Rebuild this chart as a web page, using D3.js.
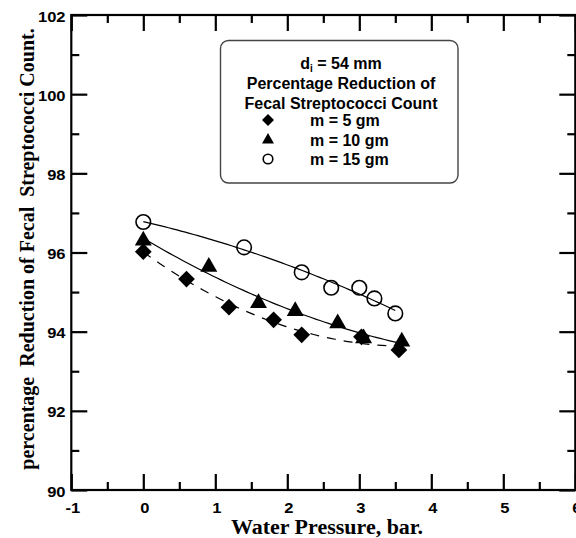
<!DOCTYPE html>
<html>
<head>
<meta charset="utf-8">
<script src="https://cdn.jsdelivr.net/npm/d3@7"></script>
<style>
  html, body { margin: 0; padding: 0; background: #fff; }
  svg { display: block; }
  .num { font-family: "Liberation Sans", Arial, sans-serif; font-weight: bold; font-size: 15px; fill: #000; }
  .ttl { font-family: "Liberation Serif", "Times New Roman", serif; font-weight: bold; font-size: 20px; fill: #000; white-space: pre; }
  .leg { font-family: "Liberation Sans", Arial, sans-serif; font-weight: bold; font-size: 16px; fill: #000; }
</style>
</head>
<body>
<svg id="chart" width="576" height="538"></svg>
<script>
// Water pressure (bar) and percentage reduction for each sand mass
const pressure5  = [0, 0.60, 1.19, 1.81, 2.20, 3.03, 3.55];
const reduction5 = [96.02, 95.33, 94.62, 94.30, 93.92, 93.87, 93.54];

const pressure10  = [0, 0.91, 1.60, 2.11, 2.70, 3.06, 3.59];
const reduction10 = [96.30, 95.64, 94.72, 94.52, 94.21, 93.83, 93.75];

const pressure15  = [0, 1.40, 2.20, 2.61, 3.00, 3.21, 3.50];
const reduction15 = [96.77, 96.13, 95.50, 95.11, 95.11, 94.84, 94.46];

const xTicks = [-1, 0, 1, 2, 3, 4, 5, 6];
const yTicks = [90, 92, 94, 96, 98, 100, 102];

const legendTitle = ["Percentage Reduction of", "Fecal Streptococci Count"];
const legendLabels = ["m = 5 gm", "m = 10 gm", "m = 15 gm"];

const svg = d3.select("#chart");
const plotLeft = 71.3, plotRight = 575.3, plotTop = 15, plotBottom = 490;

const x = d3.scaleLinear().domain([-1, 6]).range([plotLeft, plotRight]);
const y = d3.scaleLinear().domain([90, 102]).range([plotBottom, plotTop]);

// Minor/major ticks on all four sides, pointing into the plot
const majorLen = 16, minorLen = 8;
const xMinor = d3.range(-0.5, 6, 1);
const yMinor = d3.range(91, 102, 2);

function tickAxis(axisFn, scale, values, len) {
  return axisFn(scale).tickValues(values).tickSize(-len).tickFormat("");
}

const axes = svg.append("g").attr("class", "axes");
[[d3.axisBottom, plotBottom], [d3.axisTop, plotTop]].forEach(([fn, pos]) => {
  axes.append("g").attr("transform", `translate(0,${pos})`).call(tickAxis(fn, x, xTicks, majorLen));
  axes.append("g").attr("transform", `translate(0,${pos})`).call(tickAxis(fn, x, xMinor, minorLen));
});
[[d3.axisLeft, plotLeft], [d3.axisRight, plotRight]].forEach(([fn, pos]) => {
  axes.append("g").attr("transform", `translate(${pos},0)`).call(tickAxis(fn, y, yTicks, majorLen));
  axes.append("g").attr("transform", `translate(${pos},0)`).call(tickAxis(fn, y, yMinor, minorLen));
});
axes.selectAll(".domain").remove();
axes.selectAll(".tick line").attr("stroke", "#000").attr("stroke-width", 2.2);

// Frame
svg.append("rect")
  .attr("x", plotLeft).attr("y", plotTop)
  .attr("width", plotRight - plotLeft).attr("height", plotBottom - plotTop)
  .attr("fill", "none").attr("stroke", "#000").attr("stroke-width", 2.2);

// Tick labels (slightly wide lettering)
svg.append("g").selectAll("text").data(xTicks).join("text")
  .attr("class", "num")
  .attr("transform", d => `translate(${x(d) + 1.5},513) scale(1.1,1)`)
  .attr("text-anchor", "middle")
  .text(d => d);

svg.append("g").selectAll("text").data(yTicks).join("text")
  .attr("class", "num")
  .attr("transform", d => `translate(65.5,${y(d) + 6.5}) scale(1.1,1)`)
  .attr("text-anchor", "end")
  .text(d => d);

// Axis titles
svg.append("text").attr("class", "ttl")
  .attr("transform", "translate(327,534) scale(1.1,1)")
  .attr("font-size", "19.5px")
  .attr("text-anchor", "middle")
  .text("Water Pressure, bar.");

svg.append("text").attr("class", "ttl")
  .attr("transform", "translate(33.5,249) rotate(-90)")
  .attr("text-anchor", "middle")
  .text("percentage  Reduction of Fecal  Streptococci Count.");

// Quadratic least-squares fit through a series
function quadFit(xs, ys) {
  const n = xs.length;
  const s = [0, 0, 0, 0, 0], t = [0, 0, 0];
  for (let i = 0; i < n; i++) {
    const a = xs[i], b = ys[i];
    s[0] += 1; s[1] += a; s[2] += a * a; s[3] += a * a * a; s[4] += a * a * a * a;
    t[0] += b; t[1] += a * b; t[2] += a * a * b;
  }
  const M = [[s[0], s[1], s[2], t[0]], [s[1], s[2], s[3], t[1]], [s[2], s[3], s[4], t[2]]];
  for (let c = 0; c < 3; c++) {
    for (let r = c + 1; r < 3; r++) {
      const f = M[r][c] / M[c][c];
      for (let k = c; k < 4; k++) M[r][k] -= f * M[c][k];
    }
  }
  const coef = [0, 0, 0];
  for (let r = 2; r >= 0; r--) {
    let v = M[r][3];
    for (let k = r + 1; k < 3; k++) v -= M[r][k] * coef[k];
    coef[r] = v / M[r][r];
  }
  return v => coef[0] + coef[1] * v + coef[2] * v * v;
}

const line = d3.line().x(d => x(d[0])).y(d => y(d[1]));

function fitPath(xs, ys, dash) {
  const f = quadFit(xs, ys);
  const lo = d3.min(xs), hi = d3.max(xs);
  const pts = d3.range(0, 61).map(i => {
    const v = lo + (hi - lo) * i / 60;
    return [v, f(v)];
  });
  svg.append("path")
    .attr("d", line(pts))
    .attr("fill", "none")
    .attr("stroke", "#000")
    .attr("stroke-width", 1.2)
    .attr("stroke-dasharray", dash);
}

fitPath(pressure15, reduction15, null);
fitPath(pressure10, reduction10, null);
fitPath(pressure5, reduction5, "9,8");

// Markers
const diamond = d3.symbol().type(d3.symbolSquare).size(140)();
const triangle = d3.symbol().type(d3.symbolTriangle).size(125)();

const pts5 = pressure5.map((p, i) => [p, reduction5[i]]);
const pts10 = pressure10.map((p, i) => [p, reduction10[i]]);
const pts15 = pressure15.map((p, i) => [p, reduction15[i]]);

svg.append("g").selectAll("path").data(pts5).join("path")
  .attr("d", diamond)
  .attr("transform", d => `translate(${x(d[0])},${y(d[1])}) rotate(45)`)
  .attr("fill", "#000");

svg.append("g").selectAll("path").data(pts10).join("path")
  .attr("d", triangle)
  .attr("transform", d => `translate(${x(d[0])},${y(d[1])})`)
  .attr("fill", "#000");

svg.append("g").selectAll("circle").data(pts15).join("circle")
  .attr("cx", d => x(d[0])).attr("cy", d => y(d[1]))
  .attr("r", 7.3)
  .attr("fill", "none")
  .attr("stroke", "#000")
  .attr("stroke-width", 1.6);

// Legend
const lg = svg.append("g");
lg.append("rect")
  .attr("x", 220.5).attr("y", 40.5)
  .attr("width", 237.5).attr("height", 142.5)
  .attr("rx", 8).attr("ry", 8)
  .attr("fill", "#fff").attr("stroke", "#444").attr("stroke-width", 1.4);

const head = lg.append("text").attr("class", "leg")
  .attr("x", 341).attr("y", 69).attr("text-anchor", "middle");
head.append("tspan").text("d");
head.append("tspan").attr("font-size", "10px").attr("dy", 3).text("i");
head.append("tspan").attr("dy", -3).text(" = 54 mm");

lg.selectAll("text.title").data(legendTitle).join("text")
  .attr("class", "leg title")
  .attr("x", 341).attr("y", (d, i) => 89 + i * 20)
  .attr("text-anchor", "middle")
  .text(d => d);

const rowY = [120, 140, 159];
lg.append("path").attr("d", d3.symbol().type(d3.symbolSquare).size(72)())
  .attr("transform", `translate(268,${rowY[0]}) rotate(45)`).attr("fill", "#000");
lg.append("path").attr("d", d3.symbol().type(d3.symbolTriangle).size(62)())
  .attr("transform", `translate(268,${rowY[1]})`).attr("fill", "#000");
lg.append("circle").attr("cx", 268).attr("cy", rowY[2]).attr("r", 4.8)
  .attr("fill", "none").attr("stroke", "#000").attr("stroke-width", 1.6);

lg.selectAll("text.item").data(legendLabels).join("text")
  .attr("class", "leg item")
  .attr("x", 310).attr("y", (d, i) => rowY[i] + 6)
  .text(d => d);
</script>
</body>
</html>
